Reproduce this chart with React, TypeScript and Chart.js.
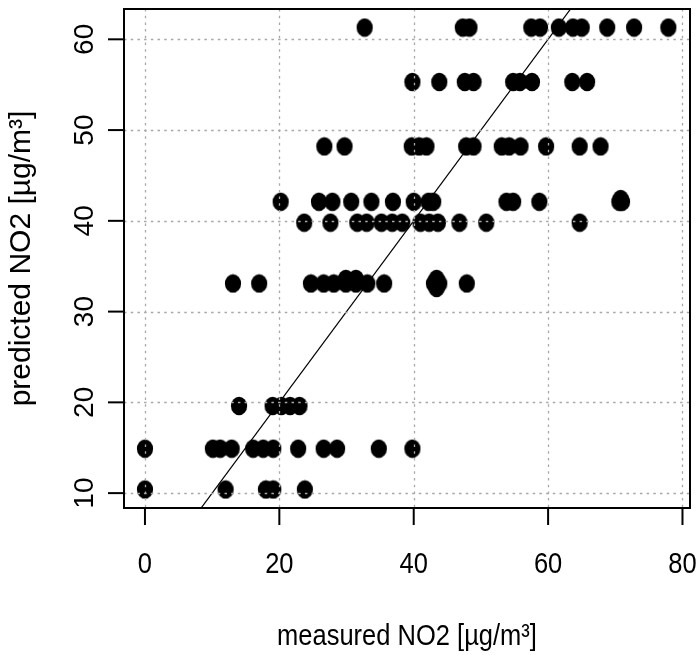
import React, { useEffect, useRef } from "react";
import { Chart, registerables } from "chart.js";

Chart.register(...registerables);

// ---- axes ----
const xTicks = [0, 20, 40, 60, 80];
const yTicks = [10, 20, 30, 40, 50, 60];
const xRange = [-3.12, 81.12];
const yRange = [8.36, 63.34];
const xTitle = "measured NO2 [µg/m³]";
const yTitle = "predicted NO2 [µg/m³]";

// ---- data: predicted levels and measured values at each level ----
const predictedLevels = [61.3, 55.3, 48.2, 42.1, 39.8, 33.1, 19.6, 14.9, 10.4];
const measuredAt61 = [32.7, 47.3, 48.3, 57.5, 58.8, 61.6, 63.7, 65.0, 68.8, 72.8, 77.9];
const measuredAt55 = [39.8, 43.8, 47.6, 48.9, 54.8, 55.8, 57.6, 63.6, 65.8];
const measuredAt48 = [26.7, 29.7, 39.7, 40.8, 41.9, 47.8, 48.9, 53.1, 54.2, 55.9, 59.7, 64.7, 67.8];
const measuredAt42 = [20.2, 25.9, 27.9, 30.7, 33.7, 36.9, 40.0, 42.2, 42.9, 53.8, 54.8, 58.7, 70.6, 71.0];
const measuredAt40 = [23.7, 27.6, 31.6, 33.0, 35.2, 36.8, 38.3, 41.0, 42.3, 43.6, 46.8, 50.8, 64.7];
const measuredAt33 = [13.1, 17.0, 24.7, 26.6, 28.1, 29.9, 31.4, 33.1, 35.6, 43.0, 43.8, 47.9];
const measuredAt20 = [14.0, 19.0, 20.3, 21.6, 23.0];
const measuredAt15 = [0, 10.1, 11.2, 12.9, 16.1, 17.6, 19.1, 22.8, 26.6, 28.6, 34.8, 39.8];
const measuredAt10 = [0, 12.0, 18.0, 19.1, 23.8];
const measuredByLevel = [
  measuredAt61, measuredAt55, measuredAt48, measuredAt42, measuredAt40,
  measuredAt33, measuredAt20, measuredAt15, measuredAt10,
];
// a few points slightly off the rows
const extraMeasured = [29.9, 31.4, 43.4, 43.4, 70.8];
const extraPredicted = [33.6, 33.6, 33.6, 32.6, 42.4];

// 1:1 reference line
const fitX = [-5, 90];
const fitY = [-5, 90];

function makeDot(): HTMLCanvasElement {
  const c = document.createElement("canvas");
  c.width = 18;
  c.height = 20;
  const g = c.getContext("2d")!;
  g.fillStyle = "#000";
  g.beginPath();
  g.ellipse(9, 10, 8.1, 9.3, 0, 0, Math.PI * 2);
  g.fill();
  return c;
}

const decorPlugin = {
  id: "decor",
  afterDatasetsDraw(chart: any) {
    const { ctx, chartArea: a, scales } = chart;
    const x = scales.x;
    const y = scales.y;
    ctx.save();
    // dotted grid on top of points
    ctx.strokeStyle = "#a8a8a8";
    ctx.lineWidth = 1.3;
    ctx.setLineDash([2.5, 4.2]);
    xTicks.forEach((v) => {
      const px = Math.round(x.getPixelForValue(v)) + 0.5;
      ctx.beginPath();
      ctx.moveTo(px, a.top);
      ctx.lineTo(px, a.bottom);
      ctx.stroke();
    });
    yTicks.forEach((v) => {
      const py = Math.round(y.getPixelForValue(v)) + 0.5;
      ctx.beginPath();
      ctx.moveTo(a.left, py);
      ctx.lineTo(a.right, py);
      ctx.stroke();
    });
    ctx.setLineDash([]);
    // box
    ctx.strokeStyle = "#000";
    ctx.lineWidth = 2;
    ctx.strokeRect(a.left, a.top, a.right - a.left, a.bottom - a.top);
    // tick marks
    xTicks.forEach((v) => {
      const px = x.getPixelForValue(v);
      ctx.beginPath();
      ctx.moveTo(px, a.bottom);
      ctx.lineTo(px, a.bottom + 17);
      ctx.stroke();
    });
    yTicks.forEach((v) => {
      const py = y.getPixelForValue(v);
      ctx.beginPath();
      ctx.moveTo(a.left, py);
      ctx.lineTo(a.left - 16, py);
      ctx.stroke();
    });
    // labels
    ctx.fillStyle = "#000";
    ctx.textAlign = "center";
    ctx.textBaseline = "alphabetic";
    ctx.font = '30px "Liberation Sans", Arial, sans-serif';
    xTicks.forEach((v) => {
      ctx.save();
      ctx.translate(x.getPixelForValue(v), a.bottom + 65);
      ctx.scale(0.85, 1);
      ctx.fillText(String(v), 0, 0);
      ctx.restore();
    });
    ctx.save();
    ctx.translate((a.left + a.right) / 2, 645);
    ctx.scale(0.85, 1);
    ctx.fillText(xTitle, 0, 0);
    ctx.restore();

    ctx.font = '28px "Liberation Sans", Arial, sans-serif';
    yTicks.forEach((v) => {
      ctx.save();
      ctx.translate(a.left - 31, y.getPixelForValue(v));
      ctx.rotate(-Math.PI / 2);
      ctx.fillText(String(v), 0, 0);
      ctx.restore();
    });
    ctx.font = '30px "Liberation Sans", Arial, sans-serif';
    ctx.save();
    ctx.translate(30, (a.top + a.bottom) / 2);
    ctx.rotate(-Math.PI / 2);
    ctx.fillText(yTitle, 0, 0);
    ctx.restore();
    ctx.restore();
  },
};

export default function App() {
  const ref = useRef<HTMLCanvasElement | null>(null);
  useEffect(() => {
    if (!ref.current) return;
    const points: { x: number; y: number }[] = [];
    predictedLevels.forEach((lvl, i) => {
      measuredByLevel[i].forEach((m) => points.push({ x: m, y: lvl }));
    });
    extraMeasured.forEach((m, i) => points.push({ x: m, y: extraPredicted[i] }));
    const line = fitX.map((v, i) => ({ x: v, y: fitY[i] }));
    const dot = makeDot();
    const chart = new Chart(ref.current, {
      type: "scatter",
      data: {
        datasets: [
          {
            type: "line",
            data: line,
            borderColor: "#000",
            borderWidth: 1.2,
            pointRadius: 0,
            fill: false,
          } as any,
          {
            data: points,
            pointStyle: dot as any,
            pointRadius: 8,
            backgroundColor: "#000",
            borderColor: "#000",
          },
        ],
      },
      options: {
        animation: false,
        responsive: false,
        events: [],
        layout: { padding: { left: 124, top: 3, right: 10, bottom: 147 } },
        plugins: { legend: { display: false }, tooltip: { enabled: false } },
        scales: {
          x: { type: "linear", display: false, min: xRange[0], max: xRange[1] },
          y: { type: "linear", display: false, min: yRange[0], max: yRange[1] },
        },
      },
      plugins: [decorPlugin],
    });
    return () => chart.destroy();
  }, []);
  return (
    <div style={{ position: "absolute", left: 0, top: 0, width: 700, height: 655, background: "#fff" }}>
      <canvas ref={ref} width={700} height={655} style={{ display: "block" }} />
    </div>
  );
}
